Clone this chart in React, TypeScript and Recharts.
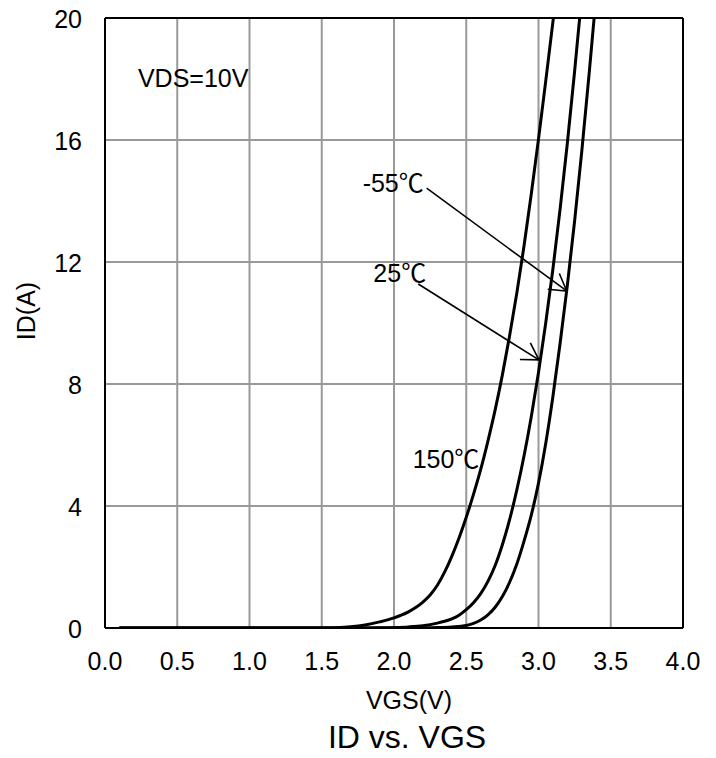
import React from 'react';
import { LineChart, Line, XAxis, YAxis, CartesianGrid, ReferenceLine, ReferenceDot } from 'recharts';

// ID vs VGS transfer curves (VDS = 10 V)
const hotV = [0.1, 1.5, 1.6, 1.7, 1.8, 1.9, 2.0, 2.05, 2.1, 2.15, 2.2, 2.25, 2.3, 2.35, 2.4, 2.45, 2.5, 2.55, 2.6, 2.65, 2.7, 2.75, 2.8, 2.85, 2.9, 2.95, 3.0, 3.05, 3.1, 3.103];
const hotI = [0, 0, 0.01, 0.04, 0.1, 0.2, 0.33, 0.42, 0.53, 0.67, 0.85, 1.08, 1.4, 1.83, 2.35, 2.95, 3.63, 4.38, 5.2, 6.13, 7.15, 8.3, 9.58, 10.98, 12.53, 14.23, 16.03, 17.93, 19.88, 20];

const roomV = [0.1, 1.8, 1.9, 2.0, 2.1, 2.2, 2.3, 2.35, 2.4, 2.45, 2.5, 2.55, 2.6, 2.65, 2.7, 2.75, 2.8, 2.85, 2.9, 2.95, 3.0, 3.05, 3.1, 3.15, 3.2, 3.25, 3.28, 3.285];
const roomI = [0, 0, 0.005, 0.015, 0.035, 0.075, 0.16, 0.22, 0.3, 0.42, 0.6, 0.83, 1.13, 1.53, 2.05, 2.73, 3.55, 4.53, 5.65, 6.93, 8.38, 10.0, 11.78, 13.76, 15.91, 18.26, 19.76, 20];

const coldV = [0.1, 2.1, 2.2, 2.3, 2.4, 2.5, 2.55, 2.6, 2.65, 2.7, 2.75, 2.8, 2.85, 2.9, 2.95, 3.0, 3.05, 3.1, 3.15, 3.2, 3.25, 3.3, 3.35, 3.38, 3.385];
const coldI = [0, 0, 0.005, 0.015, 0.035, 0.08, 0.15, 0.26, 0.43, 0.68, 1.03, 1.5, 2.1, 2.85, 3.7, 4.75, 6.05, 7.6, 9.35, 11.25, 13.35, 15.65, 18.15, 19.74, 20];

const xTicks = [0, 0.5, 1, 1.5, 2, 2.5, 3, 3.5, 4];
const yTicks = [0, 4, 8, 12, 16, 20];

// annotations: [text, V, I]
const labels: [string, number, number][] = [
  ['VDS=10V', 0.228, 17.74],
  ['-55℃', 1.783, 14.31],
  ['25℃', 1.857, 11.36],
  ['150℃', 2.129, 5.24],
];
// arrows: [fromV, fromI, toV, toI]
const arrows: [number, number, number, number][] = [
  [2.226, 14.42, 3.195, 11.05],
  [2.168, 11.28, 3.003, 8.79],
];

const toPts = (vs: number[], is: number[]) => vs.map((v, k) => ({ v, i: is[k] }));
const hot = toPts(hotV, hotI);
const room = toPts(roomV, roomI);
const cold = toPts(coldV, coldI);

const FONT = '"Liberation Sans", Arial, "Noto Sans CJK SC", sans-serif';

const arrowShape = (p: any) => {
  const { x1, y1, x2, y2 } = p;
  const ang = Math.atan2(y2 - y1, x2 - x1) + Math.PI;
  const L = 19;
  const a1 = ang - (31 * Math.PI) / 180;
  const a2 = ang + (31 * Math.PI) / 180;
  return (
    <g>
      <line x1={x1} y1={y1} x2={x2} y2={y2} stroke="#000" strokeWidth={1.6} />
      <polyline
        points={`${x2 + L * Math.cos(a1)},${y2 + L * Math.sin(a1)} ${x2},${y2} ${x2 + L * Math.cos(a2)},${y2 + L * Math.sin(a2)}`}
        fill="none"
        stroke="#000"
        strokeWidth={1.6}
      />
    </g>
  );
};

const xLabel = (props: any) => {
  const vb = props.viewBox || {};
  const cx = vb.x + vb.width / 2 + 15;
  return (
    <g>
      <text x={cx} y={709} textAnchor="middle" fontSize={25} fontFamily={FONT} fill="#000">VGS(V)</text>
      <text x={cx - 2} y={748} textAnchor="middle" fontSize={32} fontFamily={FONT} fill="#000">ID vs. VGS</text>
    </g>
  );
};

const yLabel = (props: any) => {
  const vb = props.viewBox || {};
  const cy = vb.y + vb.height / 2 - 12;
  return (
    <text x={26} y={cy} dy="0.35em" textAnchor="middle" fontSize={25} fontFamily={FONT} fill="#000" transform={`rotate(-90, 26, ${cy})`}>
      ID(A)
    </text>
  );
};

export default function App() {
  return (
    <div style={{ position: 'absolute', left: 0, top: 0, background: '#fff' }}>
      <LineChart width={716} height={758} margin={{ top: 18, right: 33, bottom: 0, left: 0 }}>
        <CartesianGrid stroke="#999" strokeWidth={2} />
        <XAxis
          dataKey="v"
          type="number"
          domain={[0, 4]}
          ticks={xTicks}
          allowDataOverflow
          height={130}
          tickLine={false}
          tickSize={0}
          tickMargin={24}
          axisLine={{ stroke: '#000', strokeWidth: 2 }}
          tick={{ fontSize: 25, fontFamily: FONT, fill: '#000' }}
          tickFormatter={(v: number) => v.toFixed(1)}
          label={xLabel}
        />
        <YAxis
          type="number"
          domain={[0, 20]}
          ticks={yTicks}
          allowDataOverflow
          width={105}
          tickLine={false}
          tickSize={0}
          tickMargin={23}
          axisLine={{ stroke: '#000', strokeWidth: 2 }}
          tick={{ fontSize: 25, fontFamily: FONT, fill: '#000', dy: 1 }}
          label={yLabel}
        />
        <ReferenceLine y={20} stroke="#000" strokeWidth={2} />
        <ReferenceLine x={4} stroke="#000" strokeWidth={2} />
        <Line data={hot} dataKey="i" type="monotone" stroke="#000" strokeWidth={3} dot={false} isAnimationActive={false} />
        <Line data={room} dataKey="i" type="monotone" stroke="#000" strokeWidth={3} dot={false} isAnimationActive={false} />
        <Line data={cold} dataKey="i" type="monotone" stroke="#000" strokeWidth={3} dot={false} isAnimationActive={false} />
        {arrows.map((a, k) => (
          <ReferenceLine
            key={`ar${k}`}
            segment={[{ x: a[0], y: a[1] }, { x: a[2], y: a[3] }]}
            shape={arrowShape}
          />
        ))}
        {labels.map((l, k) => (
          <ReferenceDot
            key={`lb${k}`}
            x={l[1]}
            y={l[2]}
            r={0}
            shape={(p: any) => (
              <text x={p.cx} y={p.cy} fontSize={25} fontFamily={FONT} fill="#000">
                {l[0]}
              </text>
            )}
          />
        ))}
      </LineChart>
    </div>
  );
}
